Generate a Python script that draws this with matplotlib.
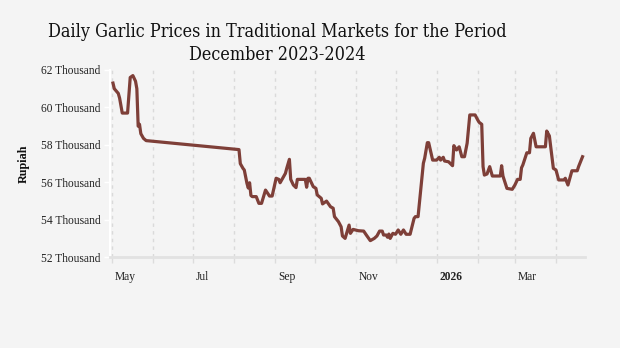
import matplotlib
matplotlib.use("Agg")
import matplotlib.pyplot as plt
import matplotlib.dates as mdates
import matplotlib.ticker as mticker
import matplotlib.transforms as mtrans
import pandas as pd

# daily garlic price (Rupiah per kg)
dates = [
    "2025-05-02", "2025-05-03", "2025-05-06", "2025-05-07", "2025-05-09", "2025-05-13",
    "2025-05-15", "2025-05-17", "2025-05-19", "2025-05-20", "2025-05-21", "2025-05-22",
    "2025-05-23", "2025-05-25", "2025-05-27",
    "2025-08-05", "2025-08-06", "2025-08-08", "2025-08-09", "2025-08-11", "2025-08-12",
    "2025-08-13", "2025-08-14", "2025-08-15", "2025-08-18", "2025-08-20", "2025-08-22",
    "2025-08-25", "2025-08-28", "2025-08-30",
    "2025-09-02", "2025-09-04", "2025-09-05", "2025-09-09", "2025-09-10", "2025-09-12",
    "2025-09-13", "2025-09-15", "2025-09-17", "2025-09-18", "2025-09-24", "2025-09-25",
    "2025-09-26", "2025-09-27", "2025-09-30",
    "2025-10-02", "2025-10-03", "2025-10-06", "2025-10-07", "2025-10-10", "2025-10-13",
    "2025-10-15", "2025-10-16", "2025-10-19", "2025-10-21", "2025-10-22", "2025-10-24",
    "2025-10-27", "2025-10-28", "2025-10-30",
    "2025-11-03", "2025-11-07", "2025-11-09", "2025-11-12", "2025-11-15", "2025-11-17",
    "2025-11-19", "2025-11-21", "2025-11-22", "2025-11-24", "2025-11-25", "2025-11-26",
    "2025-11-27", "2025-11-29",
    "2025-12-01", "2025-12-03", "2025-12-05", "2025-12-07", "2025-12-09", "2025-12-12",
    "2025-12-15", "2025-12-16", "2025-12-18", "2025-12-22", "2025-12-23", "2025-12-25",
    "2025-12-26", "2025-12-29",
    "2026-01-01", "2026-01-03", "2026-01-04", "2026-01-06", "2026-01-07", "2026-01-10",
    "2026-01-13", "2026-01-14", "2026-01-16", "2026-01-18", "2026-01-20", "2026-01-22",
    "2026-01-24", "2026-01-26", "2026-01-30",
    "2026-02-01", "2026-02-02", "2026-02-04", "2026-02-05", "2026-02-06", "2026-02-08",
    "2026-02-10", "2026-02-12", "2026-02-18", "2026-02-19", "2026-02-20", "2026-02-23",
    "2026-02-27",
    "2026-03-01", "2026-03-03", "2026-03-05", "2026-03-06", "2026-03-07", "2026-03-10",
    "2026-03-12", "2026-03-13", "2026-03-15", "2026-03-17", "2026-03-24", "2026-03-25",
    "2026-03-27", "2026-03-30",
    "2026-04-01", "2026-04-03", "2026-04-07", "2026-04-08", "2026-04-10", "2026-04-13",
    "2026-04-17", "2026-04-18", "2026-04-21",
]
prices = [
    61300, 61000, 60750, 60500, 59700, 59700,
    61600, 61700, 61400, 61000, 59000, 59100,
    58600, 58350, 58230,
    57750, 57000, 56750, 56660, 55950, 55700,
    55980, 55300, 55240, 55240, 54880, 54880,
    55590, 55270, 55270,
    56220, 56160, 55980, 56480, 56750, 57230,
    56160, 55860, 55720, 56160, 56160, 55740,
    56220, 56220, 55770,
    55680, 55330, 55150, 54850, 55000, 54700,
    54620, 54170, 53900, 53630, 53140, 53010,
    53720, 53280, 53490,
    53420, 53400, 53190, 52890, 53010, 53140,
    53400, 53400, 53190, 53190, 53070, 53240,
    53010, 53280,
    53230, 53460, 53230, 53460, 53230, 53230,
    54080, 54170, 54170, 57020, 57290, 58120,
    58120, 57190,
    57190, 57340, 57190, 57340, 57140, 57100,
    56890, 57960, 57730, 57900, 57370, 57370,
    58090, 59600, 59600,
    59330, 59210, 59100, 56840, 56390, 56450,
    56840, 56340, 56340, 56890, 56340, 55680,
    55630,
    55860, 56160, 56160, 56780, 56930, 57580,
    57580, 58350, 58620, 57900, 57900, 58740,
    58480, 56750,
    56660, 56130, 56130, 56220, 55860, 56620,
    56620, 56840, 57370,
]
y_ticks = [52000, 54000, 56000, 58000, 60000, 62000]
title_lines = ["Daily Garlic Prices in Traditional Markets for the Period",
               "December 2023-2024"]

bg = "#f4f4f4"
line_color = "#7e3f38"
serif = ["Liberation Serif", "DejaVu Serif"]

df = pd.DataFrame({"date": pd.to_datetime(dates), "price": prices})

fig = plt.figure(figsize=(6.2, 3.48), dpi=100, facecolor=bg)
ax = fig.add_axes([0.1774, 0.2606, 0.7661, 0.5383], facecolor=bg)

# dashed month grid
months = pd.date_range("2025-05-01", "2026-04-01", freq="MS")
for m in months:
    ax.axvline(m, color="#dadada", lw=1, ls=(0, (2.5, 3)), zorder=0)

ax.plot(df["date"], df["price"], color=line_color, lw=2.3, solid_joinstyle="round", zorder=3)

ax.set_xlim(pd.Timestamp("2025-04-29 18:00"), pd.Timestamp("2026-04-22 20:00"))
ax.set_ylim(52000, 62000)

ax.set_yticks(y_ticks)
ax.yaxis.set_major_formatter(mticker.FuncFormatter(lambda v, p: f"{v / 1000:.0f} Thousand"))

ax.xaxis.set_major_locator(mdates.MonthLocator(bymonth=[1, 3, 5, 7, 9, 11]))
ax.xaxis.set_minor_locator(mdates.MonthLocator(bymonth=[2, 4, 6, 8, 10, 12]))


def month_fmt(x, pos):
    d = mdates.num2date(x)
    return str(d.year) if d.month == 1 else d.strftime("%b")


ax.xaxis.set_major_formatter(mticker.FuncFormatter(month_fmt))

for s in ["top", "right"]:
    ax.spines[s].set_visible(False)
ax.spines["left"].set_color("white")
ax.spines["left"].set_linewidth(1.5)
ax.spines["bottom"].set_color("#e2e2e2")
ax.spines["bottom"].set_linewidth(2)

ax.tick_params(axis="y", colors="white", length=4, width=1, pad=3)
ax.tick_params(axis="x", which="both", colors="#dcdcdc", length=4, width=1, pad=6)
for lbl in ax.get_yticklabels():
    lbl.set_color("#222222")
    lbl.set_fontfamily(serif)
    lbl.set_fontsize(8.3)
# month labels sit just right of their tick
offset = mtrans.ScaledTranslation(3 / 100, 0, fig.dpi_scale_trans)
for lbl in ax.get_xticklabels():
    lbl.set_color("#222222")
    lbl.set_fontfamily(serif)
    lbl.set_fontsize(8.3)
    lbl.set_horizontalalignment("left")
    lbl.set_transform(lbl.get_transform() + offset)
    if lbl.get_text() == "2026":
        lbl.set_fontweight("bold")

ax.set_ylabel("Rupiah", fontfamily=serif, fontsize=8.7, fontweight="bold", color="#111111", labelpad=8)

fig.text(0.447, 0.895, title_lines[0], ha="center", va="baseline", fontsize=12.9,
         family=["DejaVu Serif"], stretch="condensed", color="#111111")
fig.text(0.447, 0.828, title_lines[1], ha="center", va="baseline", fontsize=12.9,
         family=["DejaVu Serif"], stretch="condensed", color="#111111")

fig.savefig("out.png", dpi=100, facecolor=bg)
